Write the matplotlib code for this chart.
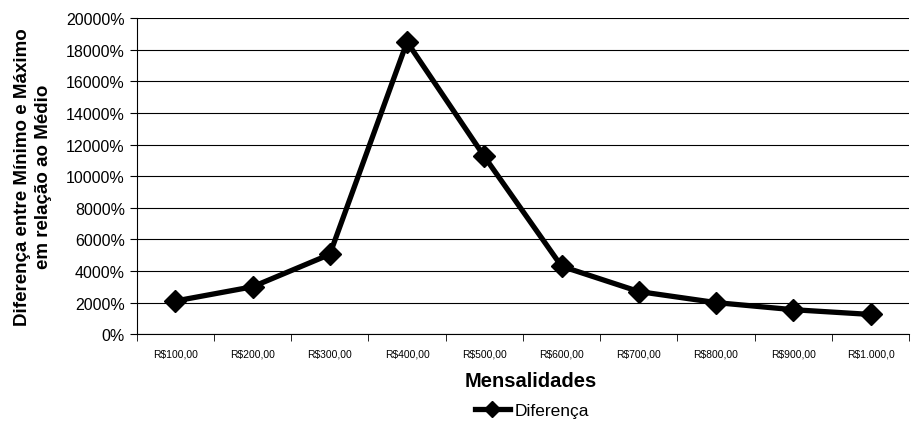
import matplotlib as mpl
mpl.use('Agg')
import matplotlib.pyplot as plt
import numpy as np
from matplotlib.ticker import FuncFormatter, FixedLocator

plt.rcParams['font.family'] = ['Liberation Sans', 'DejaVu Sans']

mensalidades = ['R$100,00', 'R$200,00', 'R$300,00', 'R$400,00', 'R$500,00',
                'R$600,00', 'R$700,00', 'R$800,00', 'R$900,00', 'R$1.000,0']
diferenca = [2100, 3000, 5050, 18500, 11250, 4300, 2700, 2000, 1550, 1250]
yticks = list(range(0, 20001, 2000))

fig = plt.figure(figsize=(9.11, 4.27), dpi=100)
ax = fig.add_axes([0.150, 0.215, 0.848, 0.740])

x = np.arange(len(mensalidades))
ax.plot(x, diferenca, 'k-', lw=3.8, marker='D', ms=11, label='Diferença',
        solid_joinstyle='miter')

ax.set_xlim(-0.5, len(mensalidades) - 0.5)
ax.set_ylim(0, 20000)
ax.set_yticks(yticks)
ax.yaxis.set_major_formatter(FuncFormatter(lambda v, p: '%d%%' % v))
ax.grid(axis='y', color='black', lw=0.8)
ax.set_axisbelow(True)

ax.set_xticks(x)
ax.set_xticklabels(mensalidades, fontsize=7.5)
ax.xaxis.set_minor_locator(FixedLocator(np.arange(-0.5, len(mensalidades), 1.0)))
ax.tick_params(axis='x', which='major', length=0, pad=10)
ax.tick_params(axis='x', which='minor', length=5, direction='out')
ax.tick_params(axis='y', length=5, direction='out', labelsize=11.5)

for s in ['top', 'right']:
    ax.spines[s].set_visible(False)

ax.set_xlabel('Mensalidades', fontsize=14.5, fontweight='bold')
ax.xaxis.set_label_coords(0.51, -0.118)
ax.set_ylabel('Diferença entre Mínimo e Máximo\nem relação ao Médio',
              fontsize=13.5, fontweight='bold', linespacing=1.25)
ax.yaxis.set_label_coords(-0.11, 0.5)

fig.legend(loc='center', bbox_to_anchor=(0.584, 0.037), frameon=False,
           fontsize=12.5, handlelength=2.0, handletextpad=0.3, markerscale=0.75)

plt.savefig('out.png', dpi=100)
